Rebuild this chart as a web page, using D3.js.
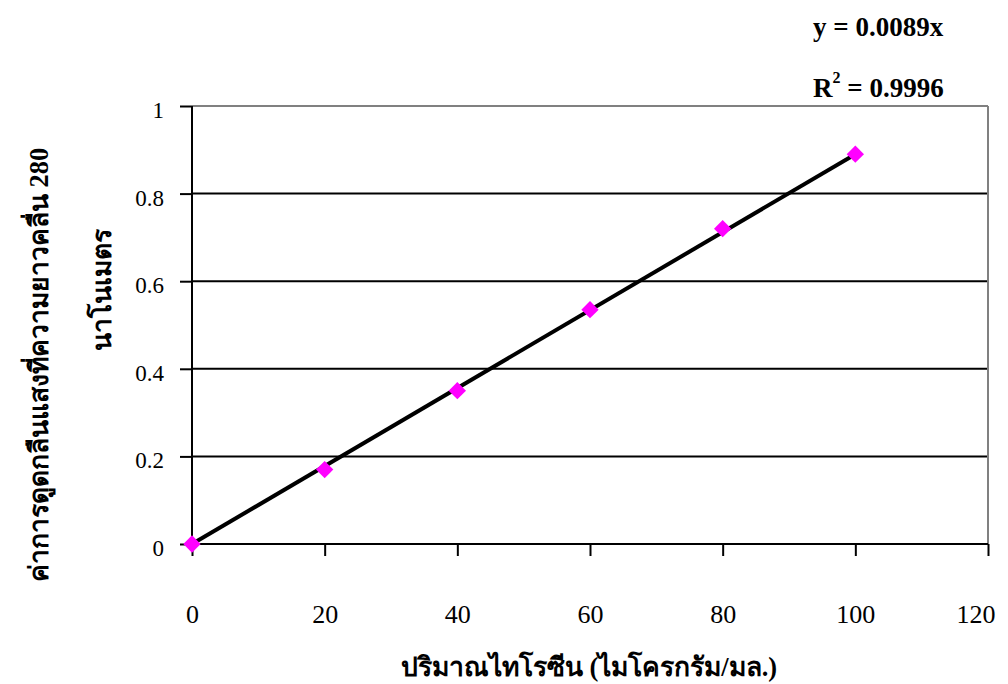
<!DOCTYPE html>
<html>
<head>
<meta charset="utf-8">
<script src="https://cdn.jsdelivr.net/npm/d3@7"></script>
<style>
  body { margin: 0; background: #fff; }
</style>
</head>
<body>
<svg id="chart" width="1008" height="684"></svg>
<script>
/// data
var xValues = [0, 20, 40, 60, 80, 100]
var absorbance = [0, 0.17, 0.35, 0.535, 0.72, 0.89]
var slope = 0.0089
var xTicks = [0, 20, 40, 60, 80, 100, 120]
var yTicks = [0, 0.2, 0.4, 0.6, 0.8, 1]
var eqText = "y = 0.0089x"
var r2Value = "0.9996"
var xTitle = "ปริมาณไทโรซีน (ไมโครกรัม/มล.)"
var yTitle = ["ค่าการดูดกลืนแสงที่ความยาวคลื่น 280", "นาโนเมตร"]

var FONT = "'Liberation Serif', 'Times New Roman', serif"
var plot = {left: 192, top: 106, right: 988, bottom: 544}

var svg = d3.select("#chart").style("font-family", FONT)

var x = d3.scaleLinear().domain([0, 120]).range([plot.left, plot.right])
var y = d3.scaleLinear().domain([0, 1]).range([plot.bottom, plot.top])

/// horizontal gridlines (top one grey, like the plot border)
svg.append("g")
  .selectAll("line")
  .data(yTicks.filter(d => d > 0))
  .enter().append("line")
  .attr("x1", plot.left).attr("x2", plot.right)
  .attr("y1", d => y(d)).attr("y2", d => y(d))
  .attr("stroke", d => d == 1 ? "#808080" : "#000")
  .attr("stroke-width", 2)

/// right border (grey)
svg.append("line")
  .attr("x1", plot.right).attr("x2", plot.right)
  .attr("y1", plot.top).attr("y2", plot.bottom)
  .attr("stroke", "#808080").attr("stroke-width", 2)

/// axes
var xAxis = d3.axisBottom(x).tickValues(xTicks).tickSize(12).tickFormat(d3.format("d"))
var yAxis = d3.axisLeft(y).tickValues(yTicks).tickSize(12).tickPadding(16).tickFormat(d => String(d))

svg.append("g")
  .attr("transform", "translate(0," + plot.bottom + ")")
  .call(xAxis)
  .call(g => g.select(".domain").remove())
  .call(g => g.selectAll("line").attr("stroke", "#000").attr("stroke-width", 2))
  .call(g => g.selectAll("text")
              .attr("y", 79).attr("dy", null)
              .attr("font-size", 26).attr("fill", "#000")
              .style("font-family", FONT))
  /// last label is pushed inside the picture, as in the original
  .call(g => g.selectAll(".tick:last-of-type text")
              .attr("text-anchor", "end").attr("x", 995 - x(120)))

svg.append("g")
  .attr("transform", "translate(" + plot.left + ",0)")
  .call(yAxis)
  .call(g => g.select(".domain").remove())
  .call(g => g.selectAll("line").attr("stroke", "#000").attr("stroke-width", 2))
  .call(g => g.selectAll("text")
              .attr("dy", "0.5em")
              .attr("font-size", 23).attr("fill", "#000")
              .style("font-family", FONT))

/// axis lines
svg.append("line")
  .attr("x1", plot.left).attr("x2", plot.right)
  .attr("y1", plot.bottom).attr("y2", plot.bottom)
  .attr("stroke", "#000").attr("stroke-width", 2)
svg.append("line")
  .attr("x1", plot.left).attr("x2", plot.left)
  .attr("y1", plot.top).attr("y2", plot.bottom)
  .attr("stroke", "#000").attr("stroke-width", 2)

/// trendline y = slope * x
var trend = [0, d3.max(xValues)]
svg.append("line")
  .attr("x1", x(trend[0])).attr("y1", y(slope * trend[0]))
  .attr("x2", x(trend[1])).attr("y2", y(slope * trend[1]))
  .attr("stroke", "#000").attr("stroke-width", 4)

/// magenta diamonds
svg.append("g")
  .selectAll("path")
  .data(xValues)
  .enter().append("path")
  .attr("d", d3.symbol().type(d3.symbolSquare).size(150))
  .attr("transform", (d, i) => "translate(" + x(d) + "," + y(absorbance[i]) + ") rotate(45)")
  .attr("fill", "#ff00ff")

/// equation labels
svg.append("text")
  .attr("x", 813).attr("y", 36)
  .attr("font-size", 27).attr("font-weight", "bold")
  .text(eqText)

var r2 = svg.append("text")
  .attr("x", 813).attr("y", 97)
  .attr("font-size", 27).attr("font-weight", "bold")
r2.append("tspan").text("R")
r2.append("tspan").attr("dy", -14).attr("font-size", 16).text("2")
r2.append("tspan").attr("dy", 14).text(" = " + r2Value)

/// axis titles
svg.append("text")
  .attr("x", 589).attr("y", 676)
  .attr("text-anchor", "middle")
  .attr("font-size", 26.5).attr("font-weight", "bold")
  .text(xTitle)

var yTitlePos = [{x: 48, y: 365}, {x: 111, y: 290}]
svg.append("g")
  .selectAll("text")
  .data(yTitle)
  .enter().append("text")
  .attr("transform", (d, i) => "translate(" + yTitlePos[i].x + "," + yTitlePos[i].y + ") rotate(-90)")
  .attr("text-anchor", "middle")
  .attr("font-size", 26.5).attr("font-weight", "bold")
  .text(d => d)
</script>
</body>
</html>
